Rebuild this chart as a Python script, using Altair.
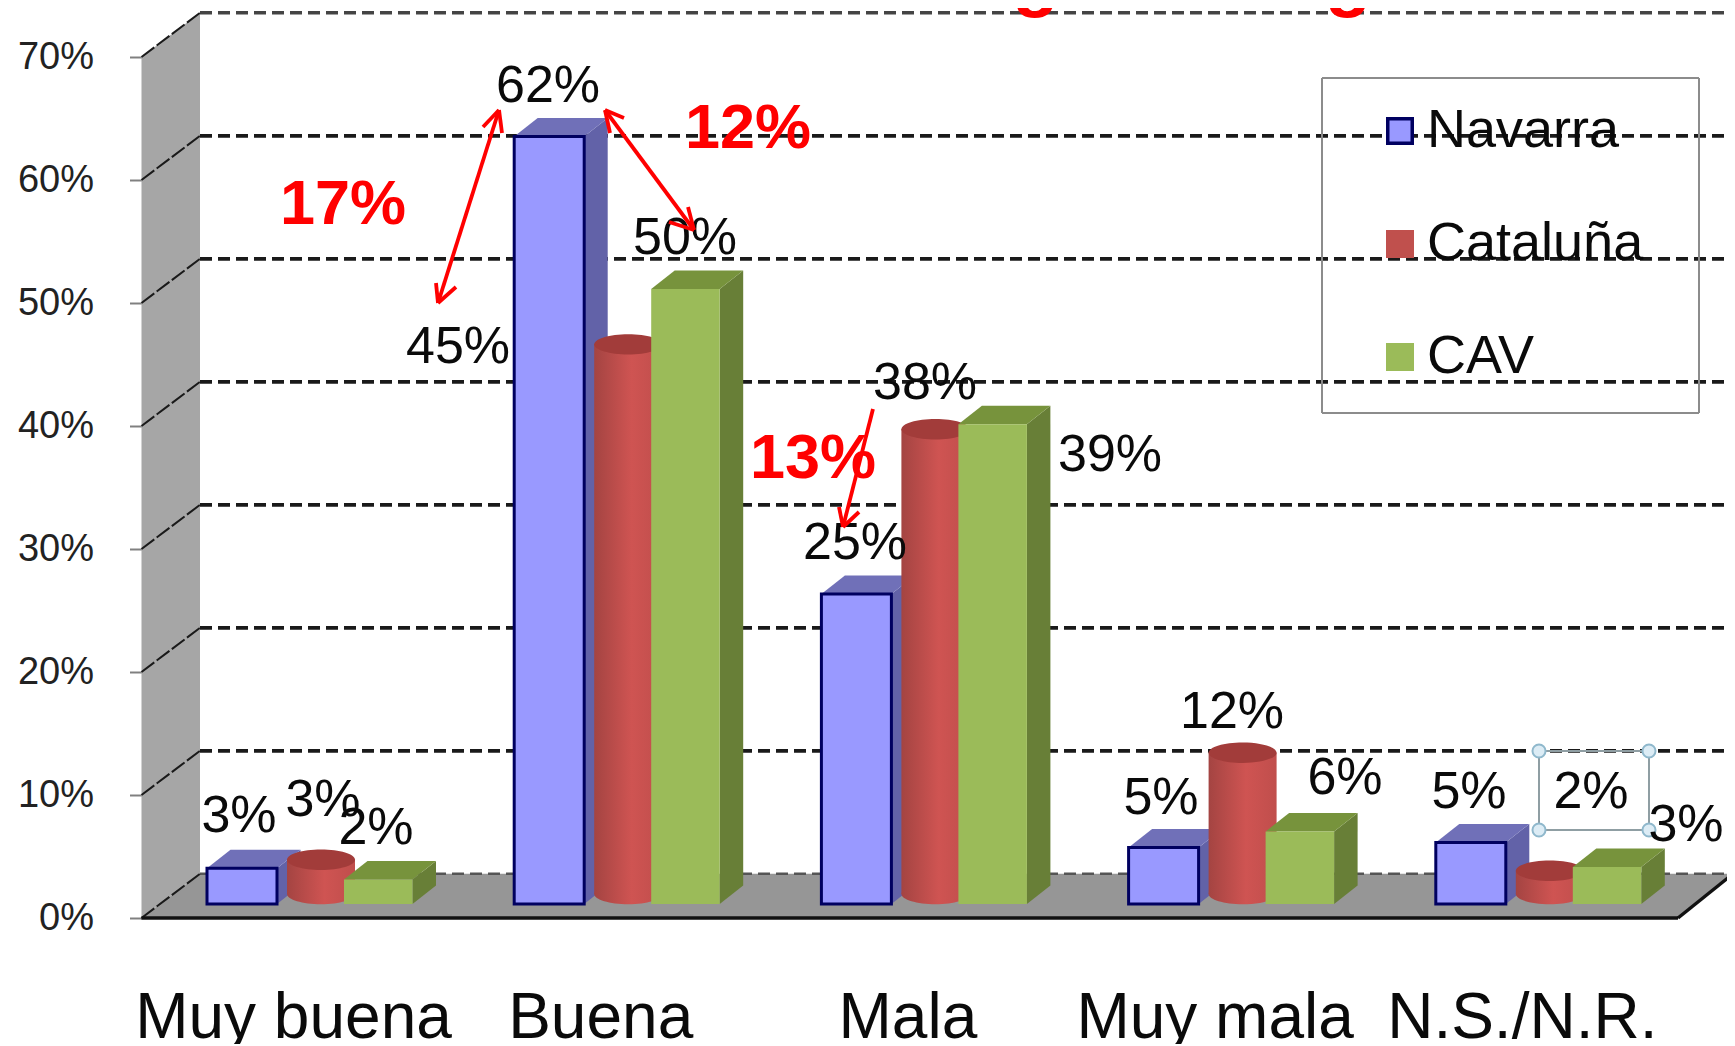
import altair as alt
import pandas as pd

# ---- values ----
CATEGORIES = ["Muy buena", "Buena", "Mala", "Muy mala", "N.S./N.R."]
SERIES = ["Navarra", "Cataluña", "CAV"]
NAVARRA = [2.9, 62.4, 25.2, 4.6, 5.0]
CATALUNA = [3.6, 45.5, 38.6, 12.3, 2.7]
CAV = [2.0, 50.0, 39.0, 5.9, 3.0]
NAVARRA_LABELS = ["3%", "62%", "25%", "5%", "5%"]
CATALUNA_LABELS = ["3%", "45%", "38%", "12%", "2%"]
CAV_LABELS = ["2%", "50%", "39%", "6%", "3%"]
Y_TICKS = [0, 10, 20, 30, 40, 50, 60, 70]
TITLE = "Sin la categoría “regular”"

# ---- layout (page pixels, converted to scale units below) ----
W, H = 1719, 1036
PX_PER_PCT = 12.3
PX_PER_CAT = 307.2
X_ZERO = 293.0      # page x of first category centre
Y_ZERO = 918.0      # page y of 0% on front axis
FONT = "Liberation Sans"
BASE_PX = 904.0     # front bar base
DX, DY = 23.5, 18.5   # 3D depth of bars
WALL_DX, WALL_DY = 58.5, 44.2
LEFT = {"Navarra": -86.0, "Cataluña": -6.0, "CAV": 51.0}
BW = {"Navarra": 70.0, "Cataluña": 68.0, "CAV": 68.5}


def ux(px):
    return (px - X_ZERO) / PX_PER_CAT


def vy(py):
    return (Y_ZERO - py) / PX_PER_PCT


x_scale = alt.Scale(domain=[ux(8), ux(8 + W)], range=[0, W], nice=False, zero=False)
y_scale = alt.Scale(domain=[vy(8 + H), vy(8)], range=[H, 0], nice=False, zero=False)

X_AXIS = alt.Axis(
    values=list(range(len(CATEGORIES))),
    labelExpr="['" + "','".join(CATEGORIES) + "'][datum.value]",
    labelFont=FONT,
    labelFontSize=64,
    labelColor="#0a0a0a",
    labelBaseline="alphabetic",
    labelPadding=0,
    labelLimit=600,
    labelOverlap=False,
    labelFlush=False,
    labelBound=False,
    ticks=False,
    domain=False,
    grid=False,
    title=None,
    offset=-7,
)
Y_AXIS = alt.Axis(
    values=Y_TICKS,
    labelExpr="datum.value + '%'",
    labelFont=FONT,
    labelFontSize=38,
    labelColor="#222222",
    labelPadding=36,
    labelOverlap=False,
    labelBound=False,
    tickSize=12,
    tickColor="#808080",
    tickWidth=2,
    domain=False,
    grid=False,
    title=None,
    offset=-(141.5 - 8),
)


def X(f="x"):
    return alt.X(f"{f}:Q", scale=x_scale, axis=X_AXIS, stack=False)


def Y(f="y"):
    return alt.Y(f"{f}:Q", scale=y_scale, axis=Y_AXIS, stack=False)


def X2(f="x2"):
    return alt.X2(f"{f}:Q")


def Y2(f="y2"):
    return alt.Y2(f"{f}:Q")


def segs(rows):
    return pd.DataFrame(
        [{"x": ux(a), "y": vy(b), "x2": ux(c), "y2": vy(d)} for a, b, c, d in rows]
    )


layers = []

# left wall
wall = pd.DataFrame(
    {
        "x": [ux(141.5), ux(200)],
        "y": [vy(918), vy(918 - WALL_DY)],
        "y2": [vy(57), vy(57 - WALL_DY)],
    }
)
layers.append(
    alt.Chart(wall).mark_area(color="#a6a6a6", opacity=1, orient="vertical").encode(x=X(), y=Y(), y2=Y2())
)
# floor
floor = pd.DataFrame(
    {
        "y": [vy(918), vy(918 - WALL_DY)],
        "x": [ux(141.5), ux(200)],
        "x2": [ux(1678), ux(1733)],
    }
)
layers.append(
    alt.Chart(floor).mark_area(color="#969696", opacity=1, orient="horizontal").encode(y=Y(), x=X(), x2=X2())
)

# gridlines (back wall + diagonals)
back = segs([(200, Y_ZERO - 12.3 * t - WALL_DY, 1735, Y_ZERO - 12.3 * t - WALL_DY) for t in Y_TICKS])
diag = segs(
    [(141.5, Y_ZERO - 12.3 * t, 200, Y_ZERO - 12.3 * t - WALL_DY) for t in Y_TICKS]
)
layers.append(
    alt.Chart(back[(back.index > 0) & (back.index < 7)])
    .mark_rule(color="#1a1a1a", strokeWidth=3.8, strokeDash=[12, 6])
    .encode(x=X(), y=Y(), x2=X2(), y2=Y2())
)
layers.append(
    alt.Chart(back[back.index == 7])
    .mark_rule(color="#444444", strokeWidth=3.5, strokeDash=[12, 6])
    .encode(x=X(), y=Y(), x2=X2(), y2=Y2())
)
layers.append(
    alt.Chart(back[back.index == 0])
    .mark_rule(color="#555555", strokeWidth=2.5, strokeDash=[12, 6])
    .encode(x=X(), y=Y(), x2=X2(), y2=Y2())
)
layers.append(
    alt.Chart(diag)
    .mark_rule(color="#1a1a1a", strokeWidth=2, strokeDash=[16, 3])
    .encode(x=X(), y=Y(), x2=X2(), y2=Y2())
)
# floor front edges
layers.append(
    alt.Chart(segs([(141.5, 918, 1678, 918), (1678, 918, 1733, 918 - WALL_DY)]))
    .mark_rule(color="#111111", strokeWidth=3.5)
    .encode(x=X(), y=Y(), x2=X2(), y2=Y2())
)

base_v = vy(BASE_PX)


def box_layers(values, name, front, top, side, stroke=None, sw=0):
    left = LEFT[name] / PX_PER_CAT
    bw = BW[name] / PX_PER_CAT
    ddx, ddy = DX / PX_PER_CAT, DY / PX_PER_PCT
    fr, tp, sd = [], [], []
    for i, v in enumerate(values):
        xl, xr = i + left, i + left + bw
        yt = v + base_v
        fr.append({"x": xl, "x2": xr, "y": yt, "y2": base_v})
        tp += [
            {"id": i, "y": yt, "x": xl, "x2": xr},
            {"id": i, "y": yt + ddy, "x": xl + ddx, "x2": xr + ddx},
        ]
        sd += [
            {"id": i, "x": xr, "y": yt, "y2": base_v},
            {"id": i, "x": xr + ddx, "y": yt + ddy, "y2": base_v + ddy},
        ]
    kw = {"stroke": stroke, "strokeWidth": sw} if stroke else {}
    return [
        alt.Chart(pd.DataFrame(sd))
        .mark_area(color=side, opacity=1, orient="vertical")
        .encode(x=X(), y=Y(), y2=Y2(), detail="id:N"),
        alt.Chart(pd.DataFrame(tp))
        .mark_area(color=top, opacity=1, orient="horizontal")
        .encode(y=Y(), x=X(), x2=X2(), detail="id:N"),
        alt.Chart(pd.DataFrame(fr))
        .mark_rect(color=front, opacity=1, **kw)
        .encode(x=X(), x2=X2(), y=Y(), y2=Y2()),
    ]


layers += box_layers(NAVARRA, "Navarra", "#9999ff", "#7070b8", "#6262a8", "#000060", 3)

# Cataluña: cylinders
RED_R = BW["Cataluña"] / 2
ELL = "M -1 0 A 1 0.3 0 1 1 1 0 A 1 0.3 0 1 1 -1 0 Z"
ell_size = (2 * RED_R) ** 2
cyl_bottom = vy(BASE_PX - 10)
cyl = pd.DataFrame(
    [
        {
            "x": i + LEFT["Cataluña"] / PX_PER_CAT,
            "x2": i + (LEFT["Cataluña"] + BW["Cataluña"]) / PX_PER_CAT,
            "xc": i + (LEFT["Cataluña"] + RED_R) / PX_PER_CAT,
            "y": v + base_v,
            "y2": cyl_bottom,
        }
        for i, v in enumerate(CATALUNA)
    ]
)
red_grad = alt.Gradient(
    gradient="linear",
    x1=0,
    x2=1,
    y1=0,
    y2=0,
    stops=[
        alt.GradientStop(color="#a44442", offset=0),
        alt.GradientStop(color="#cf5452", offset=0.55),
        alt.GradientStop(color="#c04e4c", offset=1),
    ],
)
layers.append(
    alt.Chart(cyl)
    .mark_point(shape=ELL, size=ell_size, filled=True, fill=red_grad, strokeWidth=0, opacity=1)
    .encode(x=X("xc"), y=Y("y2"))
)
layers.append(alt.Chart(cyl).mark_rect(color=red_grad, opacity=1).encode(x=X(), x2=X2(), y=Y(), y2=Y2()))
layers.append(
    alt.Chart(cyl)
    .mark_point(shape=ELL, size=ell_size, filled=True, color="#a23c3a", opacity=1)
    .encode(x=X("xc"), y=Y("y"))
)

layers += box_layers(CAV, "CAV", "#9bbb59", "#77933c", "#687f37")

# data labels (label centres, page px, placed by hand in the original)
LABEL_POS = {
    "Navarra": [(239, 816), (548, 86), (855, 543), (1161, 798), (1469, 792)],
    "Cataluña": [(323, 800), (458, 347), (925, 383), (1232, 712), (1591, 792)],
    "CAV": [(376, 828), (685, 238), (1110, 455), (1345, 778), (1686, 825)],
}
lab_rows = []
for name, labels in zip(SERIES, [NAVARRA_LABELS, CATALUNA_LABELS, CAV_LABELS]):
    for (px, py), t in zip(LABEL_POS[name], labels):
        lab_rows.append({"x": ux(px), "y": vy(py), "t": t})

# selected text box round the "2%" label
sel = segs(
    [
        (1539, 751, 1649, 751),
        (1539, 830, 1649, 830),
        (1539, 751, 1539, 830),
        (1649, 751, 1649, 830),
    ]
)
layers.append(
    alt.Chart(sel).mark_rule(color="#8f9ea3", strokeWidth=2).encode(x=X(), y=Y(), x2=X2(), y2=Y2())
)
handles = pd.DataFrame(
    {
        "x": [ux(a) for a in (1539, 1649, 1539, 1649)],
        "y": [vy(b) for b in (751, 751, 830, 830)],
    }
)
layers.append(
    alt.Chart(handles)
    .mark_point(shape="circle", size=170, fill="#dcecf5", stroke="#8fb8cc", strokeWidth=2, opacity=1, filled=False)
    .encode(x=X(), y=Y())
)

layers.append(
    alt.Chart(pd.DataFrame(lab_rows))
    .mark_text(font=FONT, fontSize=52, color="#0a0a0a", align="center", baseline="middle")
    .encode(x=X(), y=Y(), text="t:N")
)

# red arrows
arrows = segs(
    [
        (499, 110, 438, 303),
        (499, 110, 483, 127),
        (499, 110, 502, 133),
        (438, 303, 436, 283),
        (438, 303, 456, 287),
        (605, 110, 694, 230),
        (605, 110, 624, 118),
        (605, 110, 610, 133),
        (694, 230, 688, 207),
        (694, 230, 669, 222),
        (873, 409, 843, 527),
        (843, 527, 839, 507),
        (843, 527, 859, 512),
    ]
)
layers.append(
    alt.Chart(arrows).mark_rule(color="#ff0000", strokeWidth=3.8).encode(x=X(), y=Y(), x2=X2(), y2=Y2())
)
red_labels = pd.DataFrame(
    {
        "x": [ux(343), ux(748), ux(813)],
        "y": [vy(205), vy(129), vy(459)],
        "t": ["17%", "12%", "13%"],
    }
)
layers.append(
    alt.Chart(red_labels)
    .mark_text(font=FONT, fontSize=63, fontWeight="bold", color="#ff0000", align="center", baseline="middle")
    .encode(x=X(), y=Y(), text="t:N")
)
layers.append(
    alt.Chart(pd.DataFrame({"x": [ux(1094)], "y": [vy(3)], "t": [TITLE]}))
    .mark_text(font=FONT, fontSize=75, fontWeight="bold", color="#ff0000", align="center", baseline="alphabetic")
    .encode(x=X(), y=Y(), text="t:N")
)

# legend frame + legend
frame = segs(
    [
        (1322, 78, 1699, 78),
        (1322, 413, 1699, 413),
        (1322, 78, 1322, 413),
        (1699, 78, 1699, 413),
    ]
)
layers.append(
    alt.Chart(frame).mark_rule(color="#8c8c8c", strokeWidth=2).encode(x=X(), y=Y(), x2=X2(), y2=Y2())
)
leg_df = pd.DataFrame({"series": SERIES, "x": [0.0, 0.0, 0.0], "y": [0.0, 0.0, 0.0]})
fill_scale = alt.Scale(domain=SERIES, range=["#9999ff", "#c0504d", "#9bbb59"])
stroke_scale = alt.Scale(domain=SERIES, range=["#000060", "#c0504d", "#9bbb59"])
leg = alt.Legend(
    title=None,
    orient="none",
    legendX=1373 - 8,
    legendY=104 - 8,
    symbolType="square",
    symbolSize=600,
    symbolStrokeWidth=3.5,
    symbolOpacity=1,
    labelFont=FONT,
    labelFontSize=54,
    labelColor="#0a0a0a",
    labelLimit=400,
    labelOffset=0,
    rowPadding=59,
    padding=0,
)
layers.append(
    alt.Chart(leg_df)
    .mark_point(shape="square", filled=True, size=0)
    .encode(
        x=X(),
        y=Y(),
        fill=alt.Fill("series:N", scale=fill_scale, legend=leg, sort=SERIES),
        stroke=alt.Stroke("series:N", scale=stroke_scale, legend=leg, sort=SERIES),
    )
)

chart = (
    alt.layer(*layers)
    .properties(
        width=W,
        height=H,
        padding=0,
        autosize=alt.AutoSizeParams(type="none"),
        background="#ffffff",
    )
    .configure_view(stroke=None)
)

chart.save("out.html", embed_options={"renderer": "svg", "actions": False})
